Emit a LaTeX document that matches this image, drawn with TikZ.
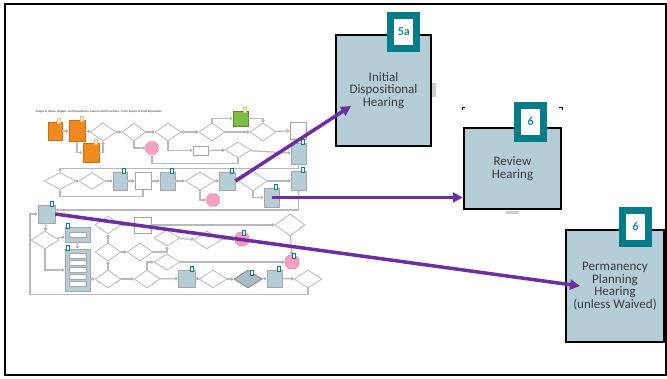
\documentclass[tikz,border=0pt]{standalone}
\usepackage{fontspec}
\setmainfont{Carlito}
\usetikzlibrary{positioning,shapes.geometric,arrows.meta}
\definecolor{hearblue}{RGB}{181,205,214}
\definecolor{tabteal}{RGB}{6,124,136}
\definecolor{numteal}{RGB}{34,140,160}
\definecolor{arrowpurple}{RGB}{108,46,160}
\definecolor{txtgray}{RGB}{60,60,62}
\definecolor{stageorange}{RGB}{240,138,30}
\definecolor{stagegreen}{RGB}{124,190,66}
\definecolor{stoppink}{RGB}{243,160,196}
\definecolor{linegray}{RGB}{185,185,185}
\tikzset{
    hearing/.style={
           rectangle,
           draw=black, line width=2.5pt,
           fill=hearblue,
           text=txtgray,
           align=center,
           font=\fontsize{13}{12.5}\selectfont,
           },
    numtab/.style={
           rectangle,
           draw=tabteal, line width=7pt,
           fill=white,
           minimum width=26pt, minimum height=33pt,
           inner sep=0pt,
           text=numteal,
           font=\fontsize{12}{12}\selectfont\bfseries,
           },
    parrow/.style={
           draw=arrowpurple, line width=3.5pt,
           -{Triangle[length=10pt,width=10pt]},
           },
}
% thumbnail of the full flowchart
\tikzset{
    tdia/.style={diamond, draw=linegray, line width=0.8pt, fill=white, inner sep=0pt,
           minimum width=26pt, minimum height=18pt},
    tbox/.style={rectangle, draw=gray!70, line width=0.6pt, fill=hearblue, inner sep=0pt,
           minimum width=15pt, minimum height=18pt},
    twhite/.style={rectangle, draw=gray!70, line width=0.6pt, fill=white, inner sep=0pt},
    torange/.style={tbox, fill=stageorange, draw=stageorange!80!black},
    tstop/.style={regular polygon, regular polygon sides=8, draw=stoppink!70!red,
           fill=stoppink, inner sep=0pt, minimum size=15pt},
    tline/.style={draw=linegray, line width=1.2pt, -{Triangle[length=2.5pt,width=3.5pt]}},
    mtab/.style={rectangle, draw=tabteal, line width=0.9pt, fill=white, inner sep=0pt,
           minimum width=3.5pt, minimum height=5pt},
    ptab/.style={mtab, draw=stageorange!60, fill=yellow!15},
}

\begin{document}
\begin{tikzpicture}[x=1pt,y=-1pt]
\useasboundingbox (0,0) rectangle (667,378);
\draw[line width=2pt] (5,4) rectangle (666,375);

% thumbnail: title
\node[anchor=west, inner sep=0pt, text=gray!70!black, font=\fontsize{3}{3}\selectfont\bfseries] (ttl) at (36,112)
    {Stages of Abuse, Neglect, and Dependency Cases in North Carolina – From Report to Final Disposition};

% thumbnail: row 1
\node[torange, minimum width=14pt] (o1) at (55,131) {};
\node[torange, minimum width=16pt, minimum height=21pt] (o2) at (77,131) {};
\node[torange, minimum width=16pt, minimum height=19pt] (o3) at (91,152.5) {};
\node[tdia] (d1) at (103,132) {};
\node[tdia, minimum width=24pt] (d2) at (134,132) {};
\node[tstop, minimum size=14pt] (s1) at (152,148) {};
\node[tdia] (d3) at (168,132) {};
\node[tdia] (d4) at (212,132) {};
\node[tbox, fill=stagegreen, draw=stagegreen!70!black, minimum height=15pt] (g1) at (240.5,118.5) {};
\node[tdia] (d5) at (263,132) {};
\node[twhite, minimum width=16pt, minimum height=17pt] (w1) at (298,130.5) {};
\node[twhite, minimum width=15pt, minimum height=9pt] (w2) at (200.5,150.5) {};
\node[tdia, minimum height=16pt] (d6) at (238,150) {};
\node[tbox, minimum height=21pt] (b1) at (298.5,153.5) {};
\draw[tline] (o1) edge (o2) (o2) edge (d1) (d1) edge (d2) (d2) edge (d3) (d3) edge (d4) (d4) edge (d5) (d5) edge (w1);
\draw[tline] (d4.north) |- (g1.west);
\draw[tline] (g1.east) -| (d5.north);
\draw[tline] (d3.south) |- (w2.west);
\draw[tline] (w2) edge (d6) (d6) edge (b1) (w1) edge (b1);
\draw[tline] (d2.south) |- (s1.west);
\draw[tline] (d6.south) -- ++(0,5) -| (s1.south);
\draw[tline] (o2.south) |- (o3.west);
\draw[tline] (o3.east) -| (d1.south);

% thumbnail: row 2
\node[tdia, minimum width=32pt, minimum height=17pt] (d7) at (60,181) {};
\node[tdia, minimum height=17pt] (d8) at (92,181) {};
\node[tbox, minimum width=14pt] (b2) at (120,181) {};
\node[twhite, minimum width=16pt, minimum height=17pt] (w3) at (143,181) {};
\node[tbox] (b3) at (167.5,181) {};
\node[tdia, minimum width=30pt] (d9) at (200,181) {};
\node[tbox, minimum width=16pt] (b4) at (227,181) {};
\node[tstop, minimum size=14pt] (s2) at (213,200) {};
\node[tdia, minimum width=28pt, minimum height=20pt] (d10) at (253,181) {};
\node[tbox, minimum height=19pt] (b5) at (271.5,197.5) {};
\node[tbox, minimum height=19pt] (b6) at (298.5,181) {};
\draw[tline] (b1.south) -- ++(0,4) -| (d7.north);
\draw[tline] (d7) edge (d8) (d8) edge (b2) (b2) edge (w3) (w3) edge (b3) (b3) edge (d9) (d9) edge (b4) (b4) edge (d10) (d10) edge (b6);
\draw[tline] (d9.south) |- (s2.west);
\draw[tline] (d10.south) |- (b5.west);
\draw[tline] (w3.south) -- ++(0,7) -| (d7.south);

% thumbnail: rows 3 and 4
\node[tbox, minimum width=17pt] (b7) at (46.5,214) {};
\node[tdia, minimum width=28pt] (d11) at (45,240) {};
\node[tbox, minimum width=25pt, minimum height=15pt] (p1) at (77.5,235) {};
\node[tbox, minimum width=25pt, minimum height=42pt] (p2) at (77.5,270) {};
\node[twhite, minimum width=17pt, minimum height=4.5pt] (p1s) at (p1) {};
\foreach \i in {1,...,5}
    \node[twhite, minimum width=17pt, minimum height=4.5pt] (p2s\i) at (77.5,{249+7*\i}) {};
\node[tdia] (d12) at (108,225) {};
\node[twhite, minimum width=17pt, minimum height=16pt] (w4) at (143,225) {};
\node[tdia] (d13) at (108,252) {};
\node[tdia] (d14) at (140,252) {};
\node[tdia, minimum height=16pt] (d15) at (167,238) {};
\node[tdia, minimum width=28pt] (d16) at (207,240) {};
\node[tstop] (s3) at (242,239) {};
\node[tdia, minimum width=30pt, minimum height=22pt] (d17) at (290,225) {};
\node[tstop] (s4) at (292,262) {};
\node[tdia] (d18) at (108,279) {};
\node[tdia] (d19) at (147,279) {};
\node[tdia, minimum height=16pt] (d21) at (167,262) {};
\node[tbox, minimum width=17pt, minimum height=17pt] (b8) at (186.5,278.5) {};
\node[tdia, minimum width=28pt] (d22) at (213,279) {};
\node[tdia, minimum width=28pt, fill=hearblue!80!gray, draw=gray] (dd) at (248,279) {};
\node[tbox, minimum height=17pt] (b9) at (274.5,278.5) {};
\node[tdia, minimum width=28pt] (d20) at (308,279) {};
\draw[tline] (b6.south) |- ([yshift=4pt]b7.east);
\draw[tline] (b7) edge (d11) (d11) edge (p1) (p1) edge (p2);
\draw[tline] (d11.south) |- (p2.west);
\draw[tline] (d12) edge (w4) (w4) edge (d17) (d13) edge (d12) (d18) edge (d13) (d13) edge (d14);
\draw[tline] (d14.east) -| (d15.south);
\draw[tline] (d15) edge (d16) (d16) edge (s3) (d17) edge (s4) (d21) edge (s4);
\draw[tline] (p2.east |- d18) -- (d18);
\draw[tline] (d18) edge (d19) (d19) edge (b8) (b8) edge (d22) (d22) edge (dd) (dd) edge (b9) (b9) edge (d20);
\draw[tline] (d19.north) |- (d21.west);
\draw[tline] (d20.south) -- ++(0,6) -| (30,250) |- (b7.west);

% thumbnail: little number tabs
\foreach \n in {b1,b2,b3,b4,b5,b6,b7,b8,b9,dd,s3,s4}
    \node[mtab, above left=-2pt and 1pt of \n.north east] (\n-tab) {};
\foreach \n in {p1,p2}
    \node[mtab, above right=-2pt and 1pt of \n.north west] (\n-tab) {};
\foreach \n in {o1,o2,o3,g1}
    \node[ptab, above left=-2pt and 1pt of \n.north east] (\n-tab) {};

% hearing boxes
\node[hearing, minimum width=95pt, minimum height=111pt] (idh) at (383.5,90.5) {Initial\\Dispositional\\Hearing};
\node[numtab, above left=-18pt and 12pt of idh.north east] (idhtab) {5a};
\fill[gray!40] (432,83) rectangle (436,97);

\node[hearing, minimum width=97pt, minimum height=81pt] (rvh) at (512.5,168.5) {Review\\Hearing};
\node[numtab, above left=-15pt and 15pt of rvh.north east] (rvhtab) {6};
\fill[gray!40] (506,211) rectangle (519,214);
\draw[line width=1pt] (462,110) -- (462,107) -- (465,107);
\draw[line width=1pt] (559,107) -- (562,107) -- (562,110);

\node[hearing, minimum width=98pt, minimum height=112pt] (pph) at (615,286) {Permanency\\Planning\\Hearing\\(unless Waived)};
\node[numtab, above left=-18pt and 13pt of pph.north east] (pphtab) {6};

% pointers from the thumbnail
\coordinate (idhin) at (351,106);
\coordinate (pphin) at (580,286);
\draw[parrow] (b4.east) -- (idhin);
\draw[parrow] (b5.center) -- (rvh.west |- b5.center);
\draw[parrow] (b7.east) -- (pphin);
\end{tikzpicture}
\end{document}
